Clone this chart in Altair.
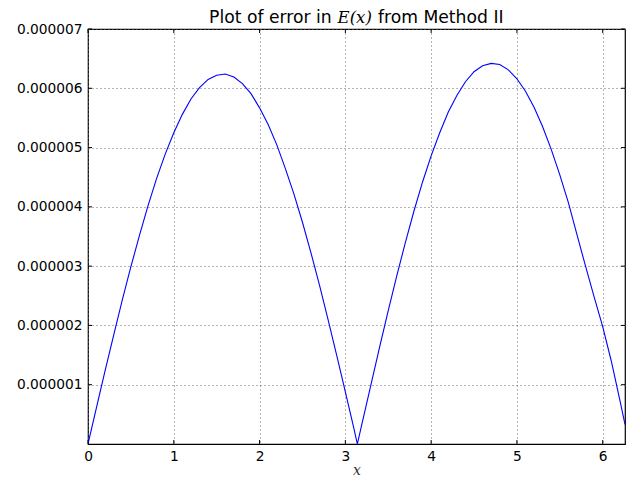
import altair as alt
import pandas as pd

# Sample positions and error values (in units of 1e-6)
x_vals = [0.0, 0.1, 0.2, 0.3, 0.4, 0.5, 0.6, 0.7, 0.8, 0.9,
          1.0, 1.1, 1.2, 1.3, 1.4, 1.5, 1.6, 1.7, 1.8, 1.9,
          2.0, 2.1, 2.2, 2.3, 2.4, 2.5, 2.6, 2.7, 2.8, 2.9,
          3.0, 3.1, 3.14, 3.2, 3.3, 3.4, 3.5, 3.6, 3.7, 3.8, 3.9,
          4.0, 4.1, 4.2, 4.3, 4.4, 4.5, 4.6, 4.7, 4.8, 4.9,
          5.0, 5.1, 5.2, 5.3, 5.4, 5.5, 5.6, 5.7, 5.8, 5.9,
          6.0, 6.1, 6.2, 6.26]
err_micro = [0.00, 0.62, 1.24, 1.84, 2.43, 2.99, 3.52, 4.02, 4.48, 4.89,
             5.25, 5.56, 5.82, 6.01, 6.15, 6.22, 6.24, 6.19, 6.08, 5.91,
             5.67, 5.39, 5.05, 4.65, 4.22, 3.74, 3.22, 2.67, 2.09, 1.49,
             0.88, 0.26, 0.00, 0.38, 1.01, 1.64, 2.25, 2.84, 3.40, 3.93, 4.42,
             4.86, 5.25, 5.60, 5.88, 6.11, 6.28, 6.38, 6.42, 6.40, 6.31,
             6.16, 5.95, 5.68, 5.35, 4.97, 4.54, 4.07, 3.53, 3.00, 2.48,
             1.98, 1.40, 0.74, 0.33]

x_ticks = [0, 1, 2, 3, 4, 5, 6]
y_ticks = [1e-6, 2e-6, 3e-6, 4e-6, 5e-6, 6e-6, 7e-6]

X_MAX = 6.26
Y_MAX = 7e-6
W, H = 537, 415

df = pd.DataFrame({"x": x_vals, "err": [v * 1e-6 for v in err_micro]})

xscale = alt.Scale(domain=[0, X_MAX], nice=False, zero=False)
yscale = alt.Scale(domain=[0, Y_MAX], nice=False)

xaxis = alt.Axis(values=x_ticks, format="d", grid=True, gridColor="#666666",
                 gridDash=[1, 3], gridWidth=1, ticks=False, domain=False,
                 labelFlush=False, labelFont="DejaVu Sans", labelFontSize=13.75,
                 labelColor="#000000", labelPadding=5,
                 title="x", titleFont="DejaVu Serif", titleFontStyle="italic",
                 titleFontWeight="normal", titleFontSize=14, titleColor="#333333",
                 titleBaseline="alphabetic", titleY=30)
yaxis = alt.Axis(values=y_ticks, format=".6f", grid=True, gridColor="#666666",
                 gridDash=[1, 3], gridWidth=1, ticks=False, domain=False,
                 labelFlush=False, labelFont="DejaVu Sans", labelFontSize=13.75,
                 labelColor="#000000", labelPadding=6, title=None)

line = alt.Chart(df).mark_line(color="#0000ff", strokeWidth=1.1, clip=True).encode(
    x=alt.X("x:Q", scale=xscale, axis=xaxis),
    y=alt.Y("err:Q", scale=yscale, axis=yaxis),
)

# Inward tick marks on all four sides
xt = pd.DataFrame({"t": x_ticks})
yt = pd.DataFrame({"t": y_ticks})
tick_color = "#000000"
bottom_ticks = alt.Chart(xt).mark_rule(color=tick_color, strokeWidth=1).encode(
    x=alt.X("t:Q", scale=xscale), y=alt.value(H), y2=alt.value(H - 4))
top_ticks = alt.Chart(xt).mark_rule(color=tick_color, strokeWidth=1).encode(
    x=alt.X("t:Q", scale=xscale), y=alt.value(0), y2=alt.value(4))
left_ticks = alt.Chart(yt).mark_rule(color=tick_color, strokeWidth=1).encode(
    y=alt.Y("t:Q", scale=yscale), x=alt.value(0), x2=alt.value(4))
right_ticks = alt.Chart(yt).mark_rule(color=tick_color, strokeWidth=1).encode(
    y=alt.Y("t:Q", scale=yscale), x=alt.value(W), x2=alt.value(W - 4))

# Title assembled from a sans part, an italic math part and a sans part
title_y = -6.5
title_size = 17.2
t_left = alt.Chart(pd.DataFrame({"s": ["Plot of error in"]})).mark_text(
    font="DejaVu Sans", fontSize=title_size, align="right", baseline="alphabetic",
    color="#000000").encode(text="s:N", x=alt.value(243.7), y=alt.value(title_y))
t_mid = alt.Chart(pd.DataFrame({"s": ["E(x)"]})).mark_text(
    font="DejaVu Serif", fontStyle="italic", fontSize=16.5, align="center",
    baseline="alphabetic", color="#000000").encode(
    text="s:N", x=alt.value(266.7), y=alt.value(title_y))
t_right = alt.Chart(pd.DataFrame({"s": ["from Method II"]})).mark_text(
    font="DejaVu Sans", fontSize=title_size, align="left", baseline="alphabetic",
    color="#000000").encode(text="s:N", x=alt.value(290), y=alt.value(title_y))

chart = alt.layer(line, bottom_ticks, top_ticks, left_ticks, right_ticks,
                  t_left, t_mid, t_right).properties(
    width=W, height=H,
    autosize=alt.AutoSizeParams(type="none"),
    padding={"left": 88, "top": 29, "right": 7, "bottom": 33},
    background="white",
).configure_view(stroke="#000000", strokeWidth=1.2)

chart.save("out.html", embed_options={"renderer": "svg", "actions": False})
